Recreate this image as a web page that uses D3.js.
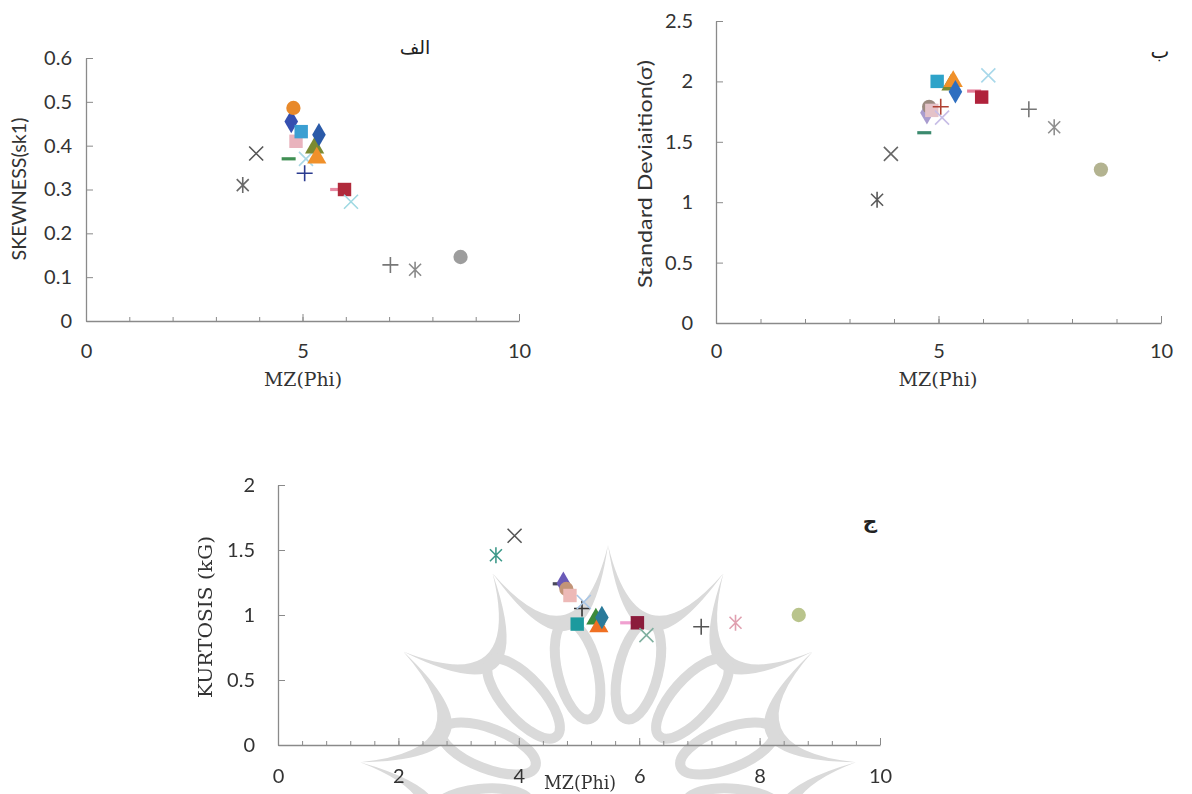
<!DOCTYPE html>
<html>
<head>
<meta charset="utf-8">
<script src="https://cdn.jsdelivr.net/npm/d3@7"></script>
<style>
  body { margin: 0; background: #fff; }
  svg { display: block; }
</style>
</head>
<body>
<div id="chart"></div>
<script>
// Samples: grain size MZ (phi) with skewness, sorting and kurtosis
const mz       = [3.62, 3.93, 4.68, 4.74, 4.79, 4.85, 4.97, 5.05, 5.08, 5.28, 5.33, 5.38, 5.80, 5.97, 6.12, 7.03, 7.60, 8.65];
const skewness = [0.310, 0.382, 0.370, 0.455, 0.486, 0.410, 0.432, 0.337, 0.370, 0.395, 0.372, 0.425, 0.300, 0.300, 0.272, 0.128, 0.117, 0.146];
const stdDev   = [1.02, 1.40, 1.575, 1.74, 1.79, 1.76, 2.00, 1.79, 1.70, 1.97, 2.00, 1.915, 1.92, 1.87, 2.05, 1.77, 1.62, 1.27];
const kurtosis = [1.46, 1.61, 1.24, 1.245, 1.20, 1.15, 0.93, 1.05, 1.10, 0.97, 0.91, 0.98, 0.94, 0.94, 0.845, 0.91, 0.94, 1.00];

// marker style per sample (separate from the values)
const markerShape = ["asterisk", "x", "dash", "diamond", "circle", "square", "square", "plus", "x", "triangle", "triangle", "diamond", "dash", "square", "x", "plus", "asterisk", "circle"];
const colorsSk = ["#6a6a6a", "#555555", "#3f8f52", "#3450b0", "#e8892c", "#e9b3bd", "#3b9fd2", "#2b3a8f", "#a9d7e6", "#7a8a32", "#f0902a", "#2a5aa8", "#e88aa3", "#b0293b", "#9fd9e2", "#777777", "#8a8a8a", "#9d9d9d"];
const colorsSd = ["#5a5a5a", "#666666", "#3b8a6e", "#a99ccf", "#9c8a80", "#e4c2c8", "#2fa3c9", "#b04030", "#c7bde6", "#7a8a32", "#f0902a", "#2f6ec0", "#e57f9a", "#b0203a", "#a8d8ea", "#777777", "#8f8f8f", "#b3b390"];
const colorsKg = ["#3e9a8a", "#555555", "#4a4a5a", "#6a5ab8", "#c29478", "#edb9b7", "#1f9a9e", "#333333", "#a8c6e6", "#3a8a3a", "#f07020", "#2a7a9a", "#f0a0d0", "#8b1a3a", "#80b0a0", "#555555", "#e0a0b0", "#b9c48c"];

const skTicks = [0, 0.1, 0.2, 0.3, 0.4, 0.5, 0.6];
const sdTicks = [0, 0.5, 1, 1.5, 2, 2.5];
const kgTicks = [0, 0.5, 1, 1.5, 2];
const mzTicksTop = [0, 5, 10];
const mzTicksBottom = [0, 2, 4, 6, 8, 10];

const width = 1192, height = 794;
const axisColor = "#8a8a8a";
const textColor = "#333333";
const sans = "Lato, 'Open Sans', sans-serif";
const serif = "'DejaVu Serif', 'Liberation Serif', serif";

const svg = d3.select("#chart").append("svg")
    .attr("width", width)
    .attr("height", height);

// soften the marks a bit like the scanned figure
svg.append("defs").append("filter")
    .attr("id", "soft")
    .append("feGaussianBlur")
    .attr("stdDeviation", 0.55);

// faint watermark rosette behind the bottom chart
function drawWatermark(cx, cy, R) {
    const wm = svg.append("g").attr("fill", "#d6d6d6").attr("opacity", 0.9);
    const step = 27.5 * Math.PI / 180;
    const tips = d3.range(-5, 6).map(k => -Math.PI / 2 + k * step);
    const pt = (a, r) => [cx + r * Math.cos(a), cy + r * Math.sin(a)];
    for (let i = 0; i < tips.length - 1; i++) {
        const a0 = tips[i], a1 = tips[i + 1], am = (a0 + a1) / 2;
        const p0 = pt(a0, R), p1 = pt(a1, R);
        const cOut = pt(am, 128), cIn = pt(am, 96);
        wm.append("path")
            .attr("d", `M${p0}Q${cOut} ${p1}Q${cIn} ${p0}Z`);
        // radial petal under each crescent
        const c = pt(am, 128);
        wm.append("ellipse")
            .attr("cx", c[0]).attr("cy", c[1])
            .attr("rx", 20).attr("ry", 50)
            .attr("fill", "none")
            .attr("stroke", "#d6d6d6")
            .attr("stroke-width", 10)
            .attr("transform", `rotate(${am * 180 / Math.PI + 90},${c[0]},${c[1]})`);
    }
}
drawWatermark(608, 795, 250);

function drawMarker(g, shape, color) {
    if (shape === "x" || shape === "plus" || shape === "asterisk" || shape === "dash") {
        const d = {
            x: "M-7,-7L7,7M-7,7L7,-7",
            plus: "M-8,0L8,0M0,-8L0,8",
            asterisk: "M-6,-6L6,6M-6,6L6,-6M0,-8L0,8",
            dash: "M-7,0L7,0"
        }[shape];
        g.append("path")
            .attr("d", d)
            .attr("fill", "none")
            .attr("stroke", color)
            .attr("stroke-width", shape === "dash" ? 3.2 : 1.6);
    } else {
        const type = {
            square: d3.symbolSquare,
            circle: d3.symbolCircle,
            diamond: d3.symbolDiamond,
            triangle: d3.symbolTriangle
        }[shape];
        g.append("path")
            .attr("d", d3.symbol().type(type).size(shape === "square" ? 180 : 160)())
            .attr("fill", color);
    }
}

function drawPanel(cfg) {
    const x = d3.scaleLinear().domain([0, 10]).range(cfg.xRange);
    const y = d3.scaleLinear().domain(cfg.yDomain).range(cfg.yRange);
    const g = svg.append("g");

    // minor x ticks (inside)
    g.append("g")
        .attr("transform", `translate(0,${cfg.yRange[0]})`)
        .call(d3.axisBottom(x).tickValues(d3.range(0, 10.001, cfg.minorStep)).tickSize(-4).tickSizeOuter(0).tickFormat(""))
        .call(a => a.select(".domain").remove());

    // major x ticks and labels
    const xAxis = g.append("g")
        .attr("transform", `translate(0,${cfg.yRange[0]})`)
        .call(d3.axisBottom(x).tickValues(cfg.xTicks).tickSize(-7).tickSizeOuter(0).tickPadding(cfg.xPad));
    xAxis.select(".domain").attr("stroke", axisColor).attr("stroke-width", 1.3);

    // y axis with inside ticks
    const yAxis = g.append("g")
        .attr("transform", `translate(${cfg.xRange[0]},0)`)
        .call(d3.axisLeft(y).tickValues(cfg.yTicks).tickSize(-7).tickSizeOuter(0).tickPadding(cfg.yPad).tickFormat(d3.format("")));
    yAxis.select(".domain").attr("stroke", axisColor).attr("stroke-width", 1.3);

    g.selectAll(".tick line").attr("stroke", axisColor);
    g.selectAll(".tick text")
        .attr("fill", textColor)
        .style("font-family", sans)
        .style("font-size", "20px");

    // x title
    g.append("text")
        .attr("x", cfg.xTitlePos[0])
        .attr("y", cfg.xTitlePos[1])
        .attr("text-anchor", "middle")
        .attr("textLength", cfg.xTitleLen)
        .attr("lengthAdjust", "spacingAndGlyphs")
        .attr("fill", textColor)
        .style("font-family", serif)
        .style("font-size", "19px")
        .text("MZ(Phi)");

    // y title
    g.append("text")
        .attr("transform", `translate(${cfg.yTitlePos[0]},${cfg.yTitlePos[1]}) rotate(-90)`)
        .attr("text-anchor", "middle")
        .attr("textLength", cfg.yTitleLen)
        .attr("lengthAdjust", "spacingAndGlyphs")
        .attr("fill", textColor)
        .style("font-family", cfg.yTitleFont)
        .style("font-size", cfg.yTitleSize)
        .text(cfg.yTitle);

    // panel letter
    g.append("text")
        .attr("x", cfg.letterPos[0])
        .attr("y", cfg.letterPos[1])
        .attr("text-anchor", "middle")
        .attr("fill", "#222")
        .style("font-family", "'DejaVu Sans', sans-serif")
        .style("font-size", cfg.letterSize)
        .style("font-weight", cfg.letterWeight)
        .text(cfg.letter);

    // points
    const pts = g.append("g").attr("filter", "url(#soft)");
    mz.forEach((m, i) => {
        const pg = pts.append("g")
            .attr("transform", `translate(${x(m)},${y(cfg.values[i])})`);
        drawMarker(pg, markerShape[i], cfg.colors[i]);
    });
}

drawPanel({
    values: skewness, colors: colorsSk,
    xRange: [86, 519], yDomain: [0, 0.6], yRange: [321, 58],
    xTicks: mzTicksTop, minorStep: 1, yTicks: skTicks,
    xPad: 23, yPad: 14,
    xTitlePos: [303, 386], xTitleLen: 78,
    yTitle: "SKEWNESS(sk1)", yTitlePos: [26, 189], yTitleLen: 143, yTitleFont: sans, yTitleSize: "19px",
    letter: "الف", letterPos: [415, 54], letterSize: "19px", letterWeight: "normal"
});

drawPanel({
    values: stdDev, colors: colorsSd,
    xRange: [716, 1161], yDomain: [0, 2.5], yRange: [323, 21],
    xTicks: mzTicksTop, minorStep: 1, yTicks: sdTicks,
    xPad: 21, yPad: 23,
    xTitlePos: [938, 386], xTitleLen: 79,
    yTitle: "Standard Deviaition(σ)", yTitlePos: [652, 174], yTitleLen: 228, yTitleFont: sans, yTitleSize: "20px",
    letter: "ب", letterPos: [1160, 58], letterSize: "20px", letterWeight: "normal"
});

drawPanel({
    values: kurtosis, colors: colorsKg,
    xRange: [278, 880], yDomain: [0, 2], yRange: [745, 485],
    xTicks: mzTicksBottom, minorStep: 0.4, yTicks: kgTicks,
    xPad: 24, yPad: 23,
    xTitlePos: [580, 789], xTitleLen: 72,
    yTitle: "KURTOSIS (kG)", yTitlePos: [212, 617], yTitleLen: 162, yTitleFont: serif, yTitleSize: "19px",
    letter: "ج", letterPos: [870, 528], letterSize: "20px", letterWeight: "bold"
});
</script>
</body>
</html>
